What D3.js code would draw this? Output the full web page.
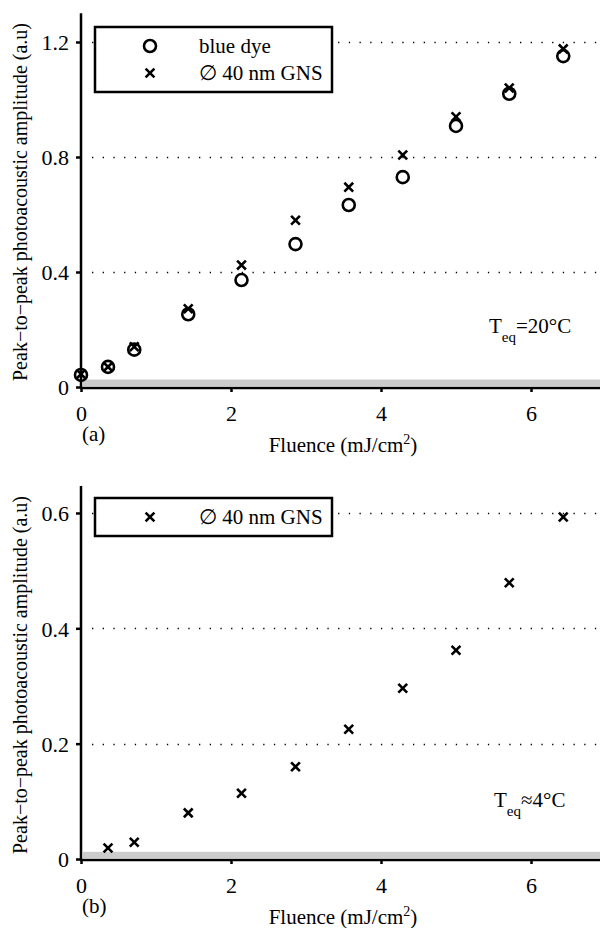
<!DOCTYPE html>
<html>
<head>
<meta charset="utf-8">
<script src="https://cdn.jsdelivr.net/npm/d3@7"></script>
<style>
  body { margin: 0; background: #fff; }
  svg text { font-family: "Liberation Serif", "Times New Roman", serif; fill: #000; }
</style>
</head>
<body>
<div id="chart"></div>
<script>
// fluence values (mJ/cm^2)
var fluence = [0, 0.36, 0.71, 1.43, 2.14, 2.86, 3.57, 4.29, 5.0, 5.71, 6.43];
// panel (a), T_eq = 20 C
var blueDye = [0.042, 0.07, 0.13, 0.253, 0.372, 0.497, 0.633, 0.73, 0.908, 1.02, 1.151];
var gnsA    = [0.045, 0.07, 0.14, 0.272, 0.424, 0.58, 0.695, 0.807, 0.94, 1.04, 1.176];
// panel (b), T_eq ~ 4 C (no point at 0)
var fluenceB = [0.36, 0.71, 1.43, 2.14, 2.86, 3.57, 4.29, 5.0, 5.71, 6.43];
var gnsB     = [0.019, 0.029, 0.08, 0.114, 0.16, 0.225, 0.296, 0.362, 0.479, 0.593];

var xTicks = [0, 2, 4, 6];
var yTicksA = [0, 0.4, 0.8, 1.2];
var yTicksB = [0, 0.2, 0.4, 0.6];

var W = 600, H = 928;
var svg = d3.select("#chart").append("svg").attr("width", W).attr("height", H);

var fs = 21;      // legend, titles
var fsTick = 22;  // tick labels

function panel(opt){
	var g = svg.append("g");
	var x = d3.scaleLinear().domain([0, 7]).range([81, 606]);
	var y = d3.scaleLinear().domain([0, opt.ymax]).range([opt.y0, opt.ytop]);

	// gray band just above zero
	g.append("rect")
		.attr("x", x(0) + 2).attr("width", W - x(0) - 2)
		.attr("y", y(opt.band)).attr("height", y(0) - 1 - y(opt.band))
		.style("fill", "#cccccc");

	// dotted grid
	g.selectAll("line.grid").data(opt.yticks.filter(function(d){return d > 0;}))
		.enter().append("line")
		.attr("class", "grid")
		.attr("x1", x(0) + 11).attr("x2", W)
		.attr("y1", function(d){return Math.round(y(d)) + 0.5;})
		.attr("y2", function(d){return Math.round(y(d)) + 0.5;})
		.style("stroke", "#000").style("stroke-width", 1.3)
		.style("stroke-dasharray", "1.3 9.4");

	// axes
	var xAxis = d3.axisBottom(x).tickValues(xTicks).tickSize(4).tickSizeOuter(0).tickFormat(d3.format("d"));
	var yAxis = d3.axisLeft(y).tickValues(opt.yticks).tickSize(5).tickSizeOuter(0)
		.tickFormat(function(d){return d === 0 ? "0" : d3.format(".1f")(d);});

	var xg = g.append("g").attr("transform", "translate(0," + (y(0) + 1) + ")").call(xAxis);
	var yg = g.append("g").attr("transform", "translate(" + x(0) + ",0)").call(yAxis);
	[xg, yg].forEach(function(a){
		a.attr("font-family", null).attr("font-size", null);
		a.select(".domain").style("stroke", "#000").style("stroke-width", 2.5);
		a.selectAll(".tick line").style("stroke", "#000").style("stroke-width", 2.5);
		a.selectAll(".tick text").style("font-size", fsTick + "px");
	});
	xg.select(".domain").attr("d", "M" + x(0) + ",0H" + W);
	yg.select(".domain").attr("d", "M0," + opt.ytop + "V" + (y(0) + 2));
	xg.selectAll(".tick text").attr("dy", null).attr("y", 33);
	yg.selectAll(".tick text").attr("x", -12).attr("dy", "0.35em");

	// legend box
	var lg = g.append("g");
	lg.append("rect")
		.attr("x", 95).attr("y", opt.legendTop)
		.attr("width", 237).attr("height", opt.series.length * 27 + 11)
		.style("fill", "#fff").style("stroke", "#000").style("stroke-width", 2.5);

	opt.series.forEach(function(s, i){
		var ly = opt.legendTop + 19 + i * 27;
		marker(lg, s.shape, 150, ly);
		lg.append("text").attr("x", 199).attr("y", ly + 7)
			.style("font-size", fs + "px").text(s.name);

		g.append("g").selectAll("g").data(s.values).enter().append("g")
			.each(function(d, j){ marker(d3.select(this), s.shape, x(s.xs[j]), y(d)); });
	});

	// temperature annotation
	var t = g.append("text").attr("x", opt.tx).attr("y", opt.ty).style("font-size", fs + "px");
	t.append("tspan").text("T");
	t.append("tspan").attr("dy", 9).style("font-size", "15px").text("eq");
	t.append("tspan").attr("dy", -9).text(opt.tlabel);

	// axis titles
	var xl = g.append("text").attr("x", 343).attr("y", y(0) + 65)
		.attr("text-anchor", "middle").style("font-size", fs + "px");
	xl.append("tspan").text("Fluence (mJ/cm");
	xl.append("tspan").attr("dy", -8).style("font-size", "14px").text("2");
	xl.append("tspan").attr("dy", 8).text(")");

	g.append("text")
		.attr("transform", "translate(27," + opt.ylabelY + ") rotate(-90)")
		.attr("text-anchor", "middle").style("font-size", "20px")
		.text("Peak\u2212to\u2212peak photoacoustic amplitude (a.u)");

	g.append("text").attr("x", 82).attr("y", y(0) + 54).style("font-size", fs + "px").text(opt.tag);
}

function marker(sel, shape, cx, cy){
	if(shape === "circle"){
		sel.append("circle").attr("cx", cx).attr("cy", cy).attr("r", 6)
			.style("fill", "none").style("stroke", "#000").style("stroke-width", 2.6);
	} else {
		var s = 4.4;
		sel.append("path")
			.attr("d", "M" + (cx - s) + "," + (cy - s) + "L" + (cx + s) + "," + (cy + s) +
				"M" + (cx - s) + "," + (cy + s) + "L" + (cx + s) + "," + (cy - s))
			.style("fill", "none").style("stroke", "#000").style("stroke-width", 2.6);
	}
}

panel({
	ymax: 1.3, y0: 387, ytop: 387 - 1.3 * 287.5, band: 0.026, yticks: yTicksA,
	legendTop: 27, tx: 489, ty: 333, tlabel: "=20\u00b0C", ylabelY: 202, tag: "(a)",
	series: [
		{name: "blue dye", shape: "circle", xs: fluence, values: blueDye},
		{name: "\u2205 40 nm GNS", shape: "cross", xs: fluence, values: gnsA}
	]
});

panel({
	ymax: 0.647, y0: 859, ytop: 859 - 0.647 * 576.7, band: 0.0125, yticks: yTicksB,
	legendTop: 498, tx: 494, ty: 807, tlabel: "\u22484\u00b0C", ylabelY: 675, tag: "(b)",
	series: [
		{name: "\u2205 40 nm GNS", shape: "cross", xs: fluenceB, values: gnsB}
	]
});
</script>
</body>
</html>
